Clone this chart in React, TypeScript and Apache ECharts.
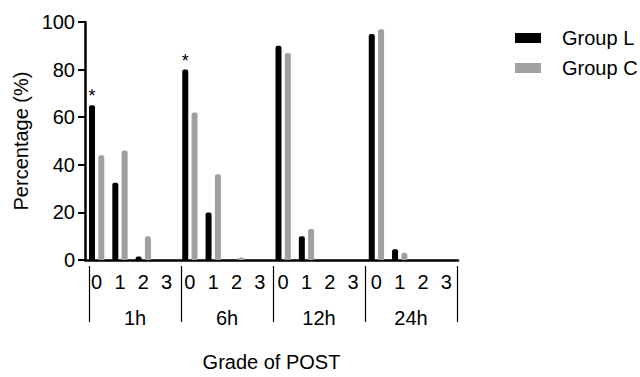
import React, { useEffect, useRef } from "react";
import * as echarts from "echarts";

const times = ["1h", "6h", "12h", "24h"];
const grades = ["0", "1", "2", "3"];
const groupL = [65, 32.5, 1.5, 0, 80, 20, 0, 0, 90, 10, 0, 0, 95, 4.5, 0, 0];
const groupC = [44, 46, 10, 0, 62, 36, 1, 0, 87, 13, 0, 0, 97, 3, 0, 0];
const starsL = [0, 4];
const yTicks = [0, 20, 40, 60, 80, 100];

const FONT = "'Liberation Sans', Arial, Helvetica, sans-serif";
const FS = 20;

export default function App() {
  const ref = useRef<HTMLDivElement>(null);
  useEffect(() => {
    document.body.style.margin = "0";
    if (!ref.current) return;
    const chart = echarts.init(ref.current, undefined, { renderer: "svg" });
    const categories: string[] = [];
    times.forEach((t) => grades.forEach((g) => categories.push(t + "|" + g)));
    chart.setOption({
      animation: false,
      textStyle: { fontFamily: FONT, color: "#000" },
      legend: {
        orient: "vertical",
        left: 515,
        top: 28,
        itemWidth: 26,
        itemHeight: 10,
        itemGap: 10,
        padding: 0,
        icon: "rect",
        textStyle: { fontFamily: FONT, fontSize: FS, lineHeight: 20, color: "#000", padding: [0, 0, 0, 16] },
        data: ["Group L", "Group C"],
      },
      grid: [
        { left: 85, right: 182, top: 22, bottom: 111 },
        { left: 89, right: 183, top: 22, bottom: 111 },
      ],
      xAxis: [
        {
          type: "category",
          gridIndex: 0,
          data: categories,
          axisLine: { lineStyle: { color: "#000", width: 2.5 } },
          axisTick: { alignWithLabel: true, length: 8, lineStyle: { color: "#000", width: 2 } },
          axisLabel: {
            interval: 0,
            margin: 12,
            fontSize: FS,
            color: "#000",
            fontFamily: FONT,
            formatter: (v: string) => v.split("|")[1],
          },
          name: "Grade of POST",
          nameLocation: "middle",
          nameGap: 92,
          nameTextStyle: { fontSize: FS, color: "#000", fontFamily: FONT },
        },
        {
          type: "category",
          gridIndex: 1,
          data: times,
          offset: 5,
          axisLine: { show: false },
          axisTick: { show: true, length: 56, lineStyle: { color: "#000", width: 1.2 } },
          axisLabel: { interval: 0, margin: 37, fontSize: FS, color: "#000", fontFamily: FONT },
        },
      ],
      yAxis: [
        {
          type: "value",
          gridIndex: 0,
          min: yTicks[0],
          max: yTicks[yTicks.length - 1],
          interval: 20,
          splitLine: { show: false },
          axisLine: { show: true, lineStyle: { color: "#000", width: 2.5 } },
          axisTick: { show: true, length: 7, lineStyle: { color: "#000", width: 2 } },
          axisLabel: { fontSize: FS, color: "#000", margin: 10, fontFamily: FONT },
          name: "Percentage (%)",
          nameLocation: "middle",
          nameGap: 52,
          nameTextStyle: { fontSize: FS, color: "#000", fontFamily: FONT },
        },
        { type: "value", gridIndex: 1, show: false, min: 0, max: 100 },
      ],
      series: [
        {
          name: "Group L",
          type: "bar",
          xAxisIndex: 0,
          yAxisIndex: 0,
          barWidth: 6,
          barGap: "55%",
          itemStyle: { color: "#000", borderRadius: [2, 2, 0, 0] },
          label: {
            show: true,
            position: "top",
            distance: 0,
            fontSize: 18,
            color: "#000",
            fontFamily: FONT,
            formatter: (p: any) => (starsL.includes(p.dataIndex) ? "*" : ""),
          },
          data: groupL,
        },
        {
          name: "Group C",
          type: "bar",
          xAxisIndex: 0,
          yAxisIndex: 0,
          barWidth: 6,
          barGap: "55%",
          itemStyle: { color: "#a0a0a0", borderRadius: [2, 2, 0, 0] },
          data: groupC,
        },
      ],
    });
    return () => chart.dispose();
  }, []);
  return <div ref={ref} style={{ width: 640, height: 377 }} />;
}
